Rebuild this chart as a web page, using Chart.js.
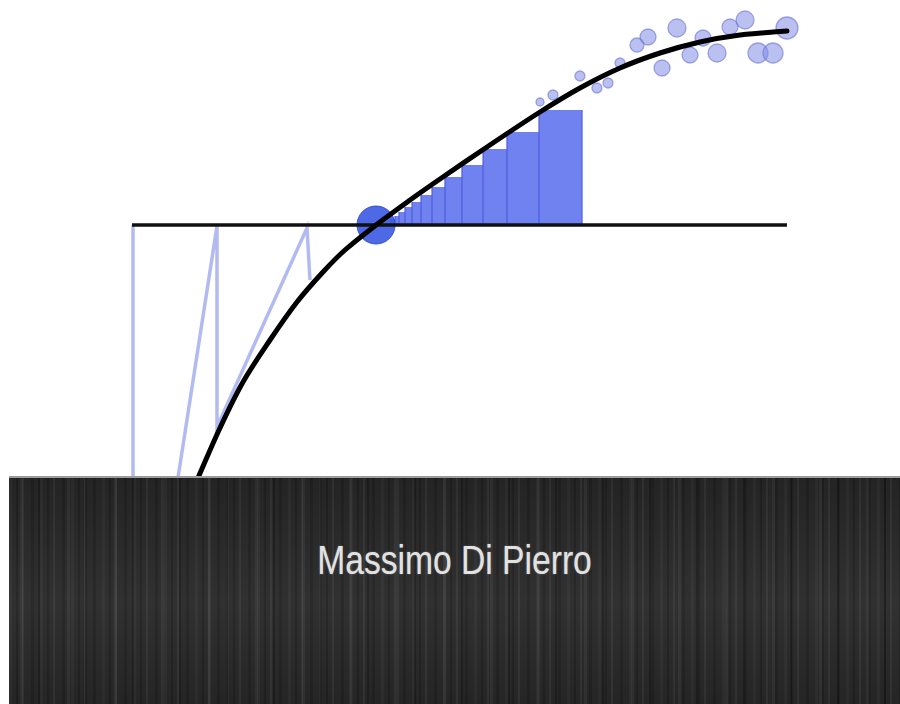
<!DOCTYPE html>
<html>
<head>
<meta charset="utf-8">
<title>Massimo Di Pierro</title>
<script src="https://cdn.jsdelivr.net/npm/chart.js@4.4.1/dist/chart.umd.min.js"></script>
<style>
body{margin:0;background:#fff;}
#page{position:relative;width:900px;height:704px;overflow:hidden;background:#fff;}
#plot{position:absolute;left:0;top:0;}
.band{
  position:absolute;left:9px;top:476px;width:891px;height:226px;
  border-top:2px solid #9c9c9c;
  background:
    linear-gradient(180deg, rgba(0,0,0,0.15), rgba(255,255,255,0.03) 55%, rgba(0,0,0,0.12)),
    repeating-linear-gradient(90deg, transparent 0 11px, rgba(255,255,255,0.05) 11px 14px, transparent 14px 29px, rgba(0,0,0,0.25) 29px 31px, transparent 31px 47px),
    repeating-linear-gradient(90deg, rgba(255,255,255,0.035) 0 3px, transparent 3px 7px, rgba(0,0,0,0.2) 7px 9px, transparent 9px 13px, rgba(255,255,255,0.06) 13px 15px, transparent 15px 22px, rgba(0,0,0,0.16) 22px 25px, transparent 25px 31px),
    #2a2a2a;
}
.author{
  position:absolute;left:0;top:62px;width:100%;
  text-align:center;line-height:41px;
  font-family:"Liberation Sans",Arial,sans-serif;
  font-size:41px;color:#e2e2e2;
  transform:scaleX(0.82);
  text-shadow:0 0 2px rgba(255,255,255,0.35);
}
</style>
</head>
<body>
<div id="page">
  <canvas id="plot" width="900" height="478"></canvas>
  <div class="band"><div class="author">Massimo Di Pierro</div></div>
</div>
<script>
// plot units: x runs 0..10 across the page, y = 0 is the target level
const curveX = [2.20, 2.444, 2.70, 3.00, 3.30, 3.589, 3.833, 4.178, 4.556, 4.889, 5.444, 6.0, 6.444, 6.889, 7.333, 7.778, 8.222, 8.744];
const curveY = [-2.53, -2.03, -1.57, -1.15, -0.77, -0.47, -0.25, 0, 0.25, 0.46, 0.80, 1.13, 1.37, 1.57, 1.72, 1.83, 1.90, 1.94];

const levelX = [1.467, 8.744];
const levelY = [0, 0];

// iteration path (goes below the page between the first two steps)
const iterX = [1.478, 1.478, 1.733, 2.411, 2.411, 3.411, 3.444];
const iterY = [0, -3.95, -3.95, -0.01, -2.02, -0.03, -0.55];

const rootX = [4.178];
const rootY = [0];

const barEdges = [4.344, 4.389, 4.433, 4.5, 4.578, 4.678, 4.8, 4.944, 5.133, 5.367, 5.633, 5.989, 6.467];
const barHeights = [0.06, 0.09, 0.13, 0.18, 0.23, 0.30, 0.38, 0.48, 0.60, 0.76, 0.93, 1.15];

const dotX = [6.0, 6.144, 6.444, 6.633, 6.756, 6.889, 7.078, 7.2, 7.356, 7.522, 7.667, 7.811, 7.967, 8.111, 8.278, 8.422, 8.589, 8.744];
const dotY = [1.23, 1.30, 1.49, 1.37, 1.42, 1.62, 1.80, 1.88, 1.57, 1.97, 1.70, 1.87, 1.72, 1.98, 2.05, 1.72, 1.72, 1.97];
const dotWeight = [4, 5, 5, 5, 5, 5, 7, 8, 8, 9, 8, 8, 9, 8, 9, 10, 10, 11];

const zip = (xs, ys) => xs.map((x, i) => ({x: x, y: ys[i]}));
const last = barHeights.length - 1;

const steps = barEdges.map((e, i) => ({x: e, y: barHeights[Math.min(i, last)]}));
const dividers = [];
barEdges.forEach((e, i) => {
  dividers.push({x: e, y: 0}, {x: e, y: barHeights[Math.min(i, last)]}, {x: e, y: null});
});

new Chart(document.getElementById('plot'), {
  type: 'scatter',
  data: {
    datasets: [
      { // main curve
        type: 'line', order: 1,
        data: zip(curveX, curveY),
        borderColor: '#000', borderWidth: 5, borderCapStyle: 'round',
        tension: 0.35, pointRadius: 0, fill: false
      },
      { // target level
        type: 'line', order: 2,
        data: zip(levelX, levelY),
        borderColor: '#111', borderWidth: 3.5, pointRadius: 0, fill: false
      },
      {
        type: 'scatter', order: 3,
        data: zip(rootX, rootY),
        pointRadius: 19, pointBackgroundColor: 'rgba(62,92,228,0.92)',
        pointBorderColor: 'rgba(45,70,200,0.9)', pointBorderWidth: 1
      },
      {
        type: 'bubble', order: 4,
        data: dotX.map((x, i) => ({x: x, y: dotY[i], r: dotWeight[i]})),
        backgroundColor: 'rgba(130,140,228,0.55)',
        borderColor: 'rgba(105,115,210,0.6)', borderWidth: 1.3
      },
      {
        type: 'line', order: 5,
        data: dividers, spanGaps: false,
        borderColor: 'rgba(75,92,218,0.9)', borderWidth: 1.3, pointRadius: 0, fill: false
      },
      {
        type: 'line', order: 6,
        data: steps, stepped: 'before',
        borderWidth: 0, borderColor: 'rgba(0,0,0,0)',
        backgroundColor: '#7082f0', fill: 'origin', pointRadius: 0
      },
      {
        type: 'line', order: 7,
        data: zip(iterX, iterY),
        borderColor: 'rgba(165,175,238,0.85)', borderWidth: 3.5,
        borderJoinStyle: 'miter', pointRadius: 0, fill: false, tension: 0
      }
    ]
  },
  options: {
    responsive: false,
    animation: false,
    events: [],
    layout: {padding: 0, autoPadding: false},
    plugins: {legend: {display: false}, tooltip: {enabled: false}},
    scales: {
      x: {type: 'linear', min: 0, max: 10, display: false},
      y: {type: 'linear', min: -2.53, max: 2.25, display: false}
    }
  }
});
</script>
</body>
</html>
